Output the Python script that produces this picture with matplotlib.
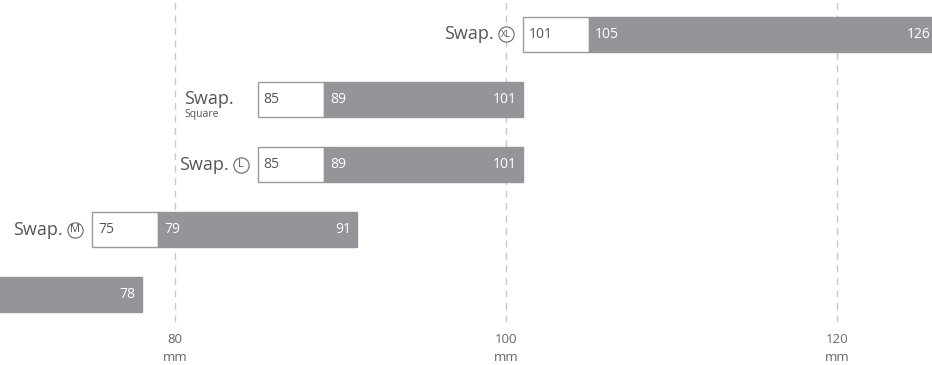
import numpy as np
import matplotlib
matplotlib.use("Agg")
import matplotlib.pyplot as plt
from matplotlib.transforms import offset_copy

# data: per model, white box start, grey bar start, bar end (mm)
models = ['XL', 'Square', 'L', 'M', 'S']
inner = [101, 85, 85, 75, 65]
mid = [105, 89, 89, 79, 69]
outer = [126, 101, 101, 91, 78]
ticks = [80, 100, 120]

grey = '#939598'
plt.rcParams['font.family'] = ['Open Sans', 'DejaVu Sans']

fig = plt.figure(figsize=(9.32, 3.65), dpi=100)
ax = fig.add_axes([0, 43 / 365, 1, 322 / 365])
xmin, xmax = 69.43, 125.74
ax.set_xlim(xmin, xmax)
ax.set_ylim(4.42, -0.53)

for t in ticks:
    ax.axvline(t, color='#c8c8c8', lw=1, ls=(0, (5, 4)), zorder=0)

h = 0.54
y = np.arange(len(models))
ax.barh(y, np.array(mid) - np.array(inner), left=inner, height=h,
        color='white', edgecolor='#9a9a9a', lw=1, zorder=2)
ax.barh(y, np.array(outer) - np.array(mid), left=mid, height=h,
        color=grey, edgecolor=grey, lw=1, zorder=2)

for i, m in enumerate(models):
    tr_in = offset_copy(ax.transData, fig, x=6, y=0, units='dots')
    if inner[i] > xmin:
        ax.text(inner[i], i, str(inner[i]), transform=tr_in, ha='left', va='center',
                fontsize=10, color='#555555', zorder=3)
    if mid[i] > xmin:
        ax.text(mid[i], i, str(mid[i]), transform=tr_in, ha='left', va='center',
                fontsize=10, color='white', zorder=3)
    tr_out = offset_copy(ax.transData, fig, x=-6, y=0, units='dots')
    ax.text(outer[i], i, str(outer[i]), transform=tr_out, ha='right', va='center',
            fontsize=10, color='white', zorder=3)

    # model label left of the bar (skip when the bar starts off the left edge)
    if inner[i] < xmin:
        continue
    if m == 'Square':
        tr = offset_copy(ax.transData, fig, x=-74, y=1, units='dots')
        ax.text(inner[i], i, 'Swap.', transform=tr, ha='left', va='center',
                fontsize=13, color='#555555')
        tr = offset_copy(ax.transData, fig, x=-73, y=-15, units='dots')
        ax.text(inner[i], i, 'Square', transform=tr, ha='left', va='center',
                fontsize=7.5, color='#555555')
    else:
        tr = offset_copy(ax.transData, fig, x=-29, y=0, units='dots')
        ax.text(inner[i], i, 'Swap.', transform=tr, ha='right', va='center',
                fontsize=13, color='#555555')
        tr = offset_copy(ax.transData, fig, x=-17, y=0, units='dots')
        ax.plot([inner[i]], [i], transform=tr, marker='o', ms=11, mfc='white',
                mec='#666666', mew=0.8, zorder=3)
        ax.text(inner[i], i, m, transform=tr, ha='center', va='center',
                fontsize=6.5 if len(m) > 1 else 8, color='#555555')

ax.set_yticks([])
ax.set_xticks(ticks)
ax.set_xticklabels([f'{t}\nmm' for t in ticks], fontsize=9.5, color='#666666',
                   linespacing=1.45)
ax.tick_params(axis='x', length=0, pad=8)
for s in ax.spines.values():
    s.set_visible(False)

fig.savefig('out.png', dpi=100)
